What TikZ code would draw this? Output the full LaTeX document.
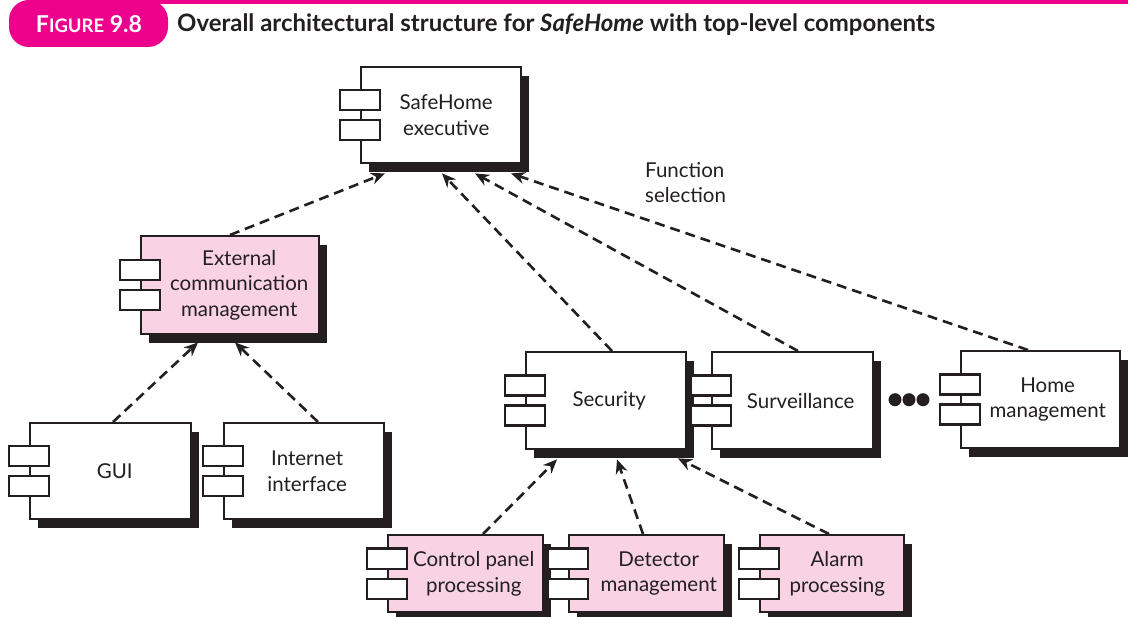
\documentclass[tikz,border=0pt]{standalone}
\usepackage{fontspec}
\setmainfont{Lato}
\usetikzlibrary{shadows,arrows.meta,calc}
\definecolor{mag}{HTML}{EC008C}
\definecolor{pinkfill}{HTML}{F9D3E4}
\definecolor{ink}{HTML}{231F20}
\begin{document}
\begin{tikzpicture}[x=1pt,y=-1pt,
  comp/.style={draw=ink, line width=2.4pt, fill=white, rectangle, anchor=north west, inner sep=0pt,
    drop shadow={shadow xshift=8pt, shadow yshift=-9pt, fill=ink, opacity=1}},
  pinkcomp/.style={comp, fill=pinkfill},
  port/.style={draw=ink, line width=2.4pt, fill=white, rectangle, inner sep=0pt, minimum width=40pt, minimum height=20pt},
  lbl/.style={text=ink, align=center, inner sep=0pt, font=\fontsize{20.5}{25.5}\selectfont},
  dep/.style={draw=ink, line width=2.6pt, dash pattern=on 10pt off 6pt, -{Stealth[length=14pt,width=12pt]}},
  dot/.style={circle, fill=ink, inner sep=0pt, minimum size=13pt}
]
\useasboundingbox (0,0) rectangle (1128,617);
% header
\fill[mag] (150,0) rectangle (1128,4);
\fill[mag, rounded corners=20pt] (9,0) rectangle (168,47);
\node[text=white, inner sep=0pt] (fig) at (89,24) {\resizebox{106pt}{17pt}{\bfseries F{\footnotesize IGURE} 9.8}};
\node[text=ink, anchor=base west, inner sep=0pt] (title) at (177,32) {\resizebox{758pt}{!}{\bfseries Overall architectural structure for \textit{SafeHome} with top-level components}};

% components
\newcommand{\comp}[8]{% name, style, x, y, w, h, dx, text
  \node[#2, minimum width=#5pt, minimum height=#6pt] (#1) at (#3,#4) {};
  \node[port] (#1-p1) at ($(#1.west)+(0,-15)$) {};
  \node[port] (#1-p2) at ($(#1.west)+(0,15)$) {};
  \node[lbl] (#1-t) at ($(#1.center)+(#7,0)$) {#8};
}
\comp{exec}{comp}{360}{66}{160}{96}{5}{SafeHome\\executive}
\comp{ext}{pinkcomp}{140}{235}{178}{98}{9}{External\\communication\\management}
\comp{gui}{comp}{29}{422}{161}{96}{4}{GUI}
\comp{inet}{comp}{223}{422}{160}{96}{3}{Internet\\interface}
\comp{sec}{comp}{525}{351}{160}{97}{3}{Security}
\comp{surv}{comp}{711}{351}{161}{97}{8}{Surveillance}
\comp{home}{comp}{960}{350}{159}{97}{7}{Home\\management}
\comp{ctrl}{pinkcomp}{387}{534}{155}{77}{8}{Control panel\\processing}
\comp{det}{pinkcomp}{568}{534}{155}{77}{12}{Detector\\management}
\comp{alarm}{pinkcomp}{759}{534}{144}{77}{5}{Alarm\\processing}

% ellipsis dots
\node[dot] (d1) at ($(home.west)+(-65,0)$) {};
\node[dot] (d2) at ($(home.west)+(-51,0)$) {};
\node[dot] (d3) at ($(home.west)+(-37,0)$) {};

% label
\node[lbl, align=left, anchor=base west] (fs) at (645,203) {Function\\selection};

% dependencies
\draw[dep] ($(ext.north west)+(90,0)$) -- ($(exec.south west)+(25,9)$);
\draw[dep] ($(sec.north west)+(87,0)$) -- ($(exec.south west)+(82,9)$);
\draw[dep] ($(surv.north west)+(87,0)$) -- ($(exec.south west)+(115,9)$);
\draw[dep] ($(home.north west)+(68,0)$) -- ($(exec.south west)+(151,9)$);
\draw[dep] ($(gui.north west)+(84,0)$) -- ($(ext.south west)+(58,7)$);
\draw[dep] ($(inet.north west)+(95,0)$) -- ($(ext.south west)+(95,7)$);
\draw[dep] ($(ctrl.north west)+(96,0)$) -- ($(sec.south west)+(32,9)$);
\draw[dep] ($(det.north west)+(75,0)$) -- ($(sec.south west)+(92,9)$);
\draw[dep] ($(alarm.north west)+(70,0)$) -- ($(sec.south west)+(153,8)$);
\end{tikzpicture}
\end{document}
